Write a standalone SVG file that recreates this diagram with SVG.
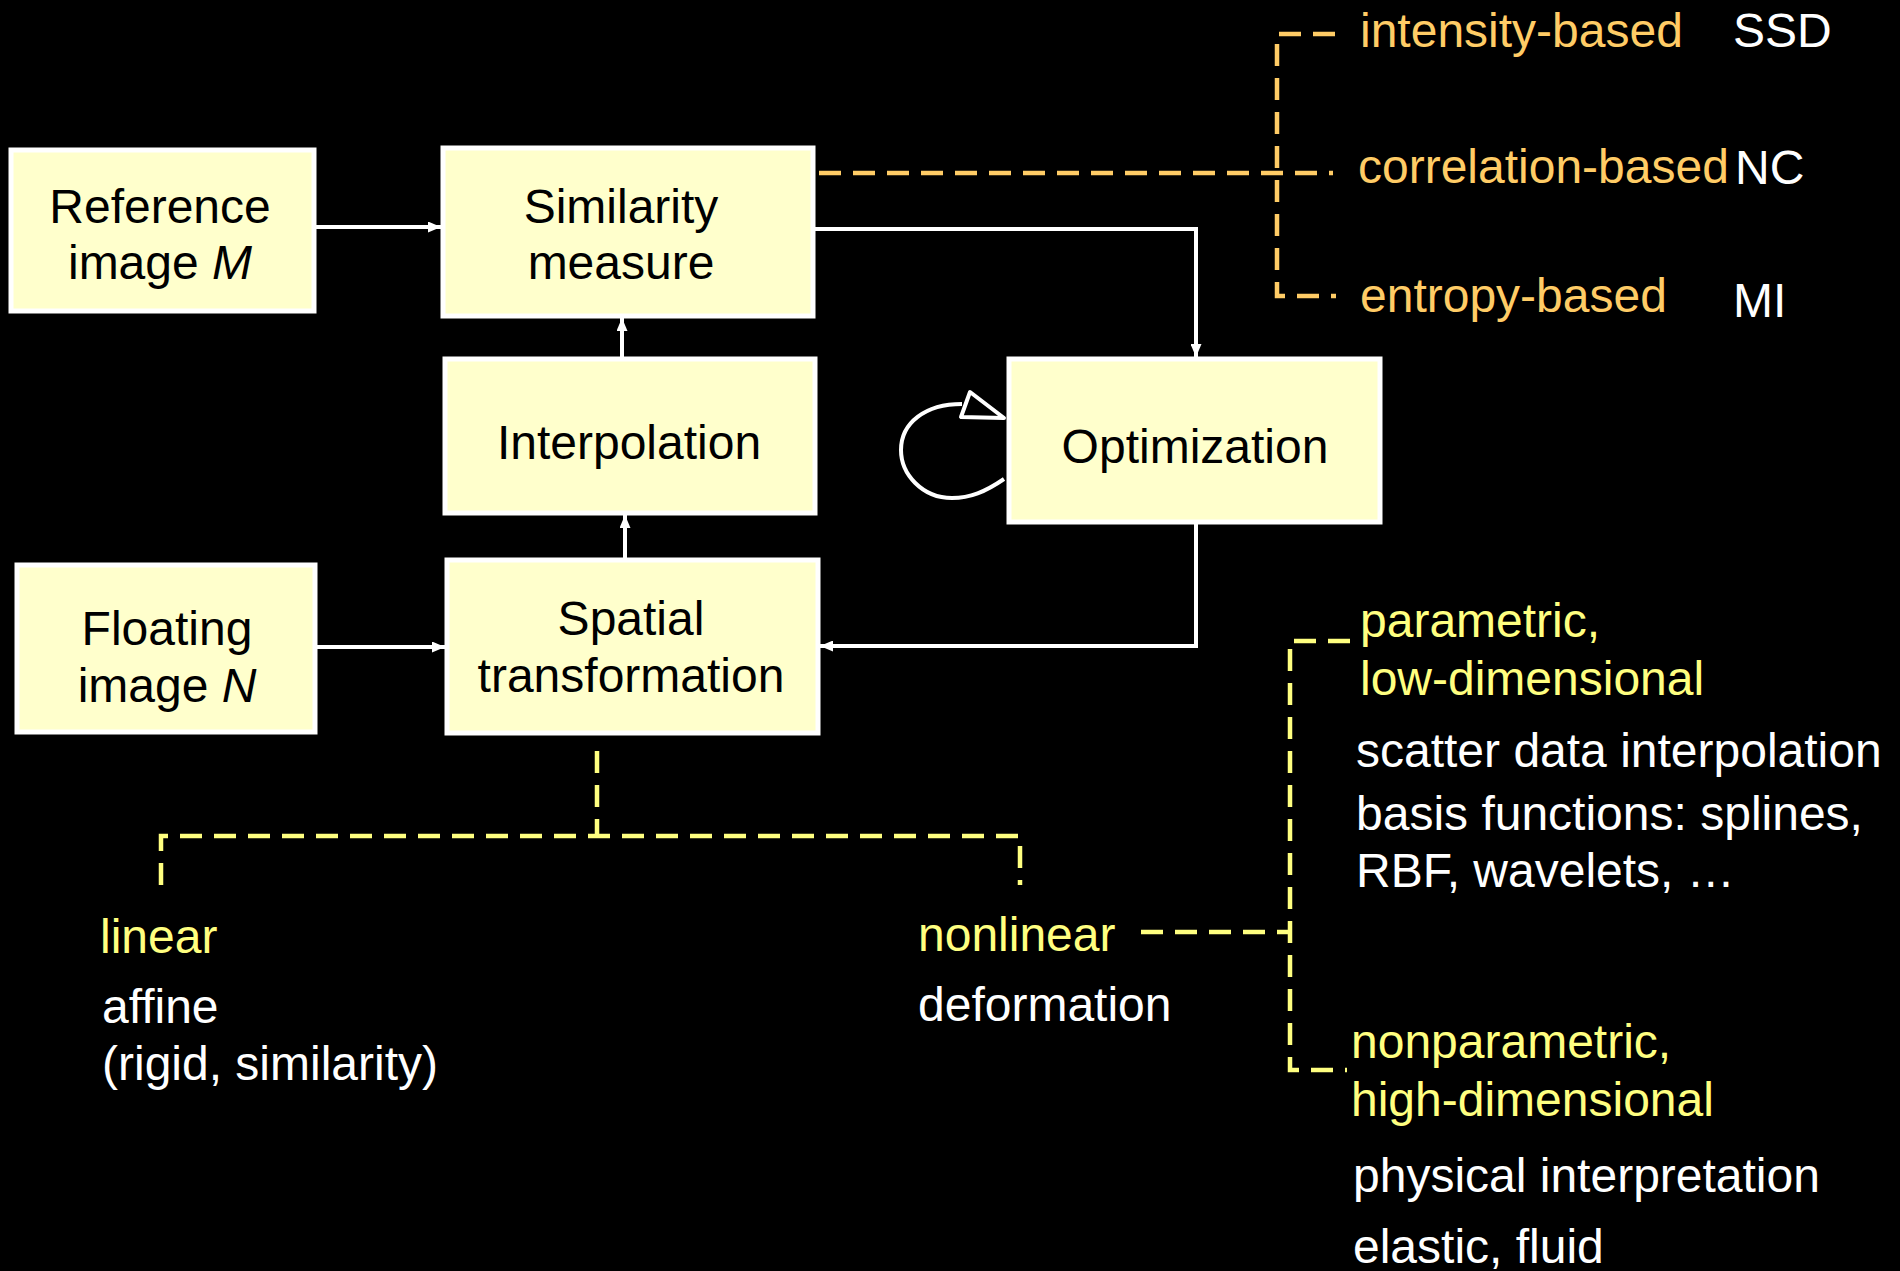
<svg xmlns="http://www.w3.org/2000/svg" width="1900" height="1271" viewBox="0 0 1900 1271">
<style>
.box{fill:#FFFFCC;stroke:#FFFFFF;stroke-width:5}
.bt{font-family:"Liberation Sans",Arial,sans-serif;font-size:48px;fill:#000000;text-anchor:middle}
.t{font-family:"Liberation Sans",Arial,sans-serif;font-size:48px}
.w{fill:#FFFFFF}
.o{fill:#FFCC66}
.y{fill:#FFFF80}
.conn{fill:none;stroke:#FFFFFF;stroke-width:4}
.dasho{fill:none;stroke:#FFCC66;stroke-width:4.5;stroke-dasharray:22 12}
.dashy{fill:none;stroke:#FFFF80;stroke-width:4.5;stroke-dasharray:22 12}
</style>
<defs>
<marker id="arr" viewBox="0 0 13 11" refX="13" refY="5.5" markerWidth="13" markerHeight="11" markerUnits="userSpaceOnUse" orient="auto">
<path d="M0,0 L13,5.5 L0,11 Z" fill="#FFFFFF"/>
</marker>
</defs>
<rect width="1900" height="1271" fill="#000000"/>

<g id="connectors">
<path class="conn" d="M314,227 H441" marker-end="url(#arr)"/>
<path class="conn" d="M813,229 H1196 V357" marker-end="url(#arr)"/>
<path class="conn" d="M622,359 V318" marker-end="url(#arr)"/>
<path class="conn" d="M625,560 V515" marker-end="url(#arr)"/>
<path class="conn" d="M315,647 H445" marker-end="url(#arr)"/>
<path class="conn" d="M1196,522 V646 H820" marker-end="url(#arr)"/>
<path class="conn" d="M1004,479 C985,492 970,498 952,498 C922,498 901,474 901,450 C901,423 925,404 962,404"/>
<polygon points="970,392 961,417 1004,418" fill="#000000" stroke="#FFFFFF" stroke-width="4" stroke-linejoin="round"/>
<path class="dasho" d="M819,173 H1333"/>
<path class="dasho" d="M1335,34 H1277 V296 H1336"/>
<path class="dashy" d="M597,751 V836"/>
<path class="dashy" d="M161,885 V836 H1020 V885"/>
<path class="dashy" d="M1141,932 H1290"/>
<path class="dashy" d="M1350,641 H1290 V1070 H1347"/>
</g>

<g id="reference">
<rect class="box" x="11" y="150" width="303" height="161"/>
<text class="bt" x="160" y="223">Reference</text>
<text class="bt" x="160" y="279">image <tspan font-style="italic">M</tspan></text>
</g>
<g id="similarity">
<rect class="box" x="443" y="148" width="370" height="168"/>
<text class="bt" x="621" y="223">Similarity</text>
<text class="bt" x="621" y="279">measure</text>
</g>
<g id="interpolation">
<rect class="box" x="445" y="359" width="370" height="154"/>
<text class="bt" x="629" y="459">Interpolation</text>
</g>
<g id="optimization">
<rect class="box" x="1009" y="359" width="371" height="163"/>
<text class="bt" x="1195" y="463">Optimization</text>
</g>
<g id="floating">
<rect class="box" x="17" y="565" width="298" height="167"/>
<text class="bt" x="167" y="645">Floating</text>
<text class="bt" x="167" y="702">image <tspan font-style="italic">N</tspan></text>
</g>
<g id="spatial">
<rect class="box" x="447" y="560" width="371" height="173"/>
<text class="bt" x="631" y="635">Spatial</text>
<text class="bt" x="631" y="692">transformation</text>
</g>

<g id="similarity-types">
<text class="t o" x="1360" y="47">intensity-based</text>
<text class="t o" x="1358" y="183">correlation-based</text>
<text class="t o" x="1360" y="312">entropy-based</text>
<text class="t w" x="1733" y="47">SSD</text>
<text class="t w" x="1735" y="184">NC</text>
<text class="t w" x="1733" y="317">MI</text>
</g>

<g id="linear">
<text class="t y" x="100" y="953">linear</text>
<text class="t w" x="102" y="1023">affine</text>
<text class="t w" x="102" y="1080">(rigid, similarity)</text>
</g>
<g id="nonlinear">
<text class="t y" x="918" y="951">nonlinear</text>
<text class="t w" x="918" y="1021">deformation</text>
</g>
<g id="parametric">
<text class="t y" x="1360" y="637">parametric,</text>
<text class="t y" x="1360" y="695">low-dimensional</text>
<text class="t w" x="1356" y="767">scatter data interpolation</text>
<text class="t w" x="1356" y="830">basis functions: splines,</text>
<text class="t w" x="1356" y="887">RBF, wavelets, …</text>
</g>
<g id="nonparametric">
<text class="t y" x="1351" y="1058">nonparametric,</text>
<text class="t y" x="1351" y="1116">high-dimensional</text>
<text class="t w" x="1353" y="1192">physical interpretation</text>
<text class="t w" x="1353" y="1263">elastic, fluid</text>
</g>
</svg>
